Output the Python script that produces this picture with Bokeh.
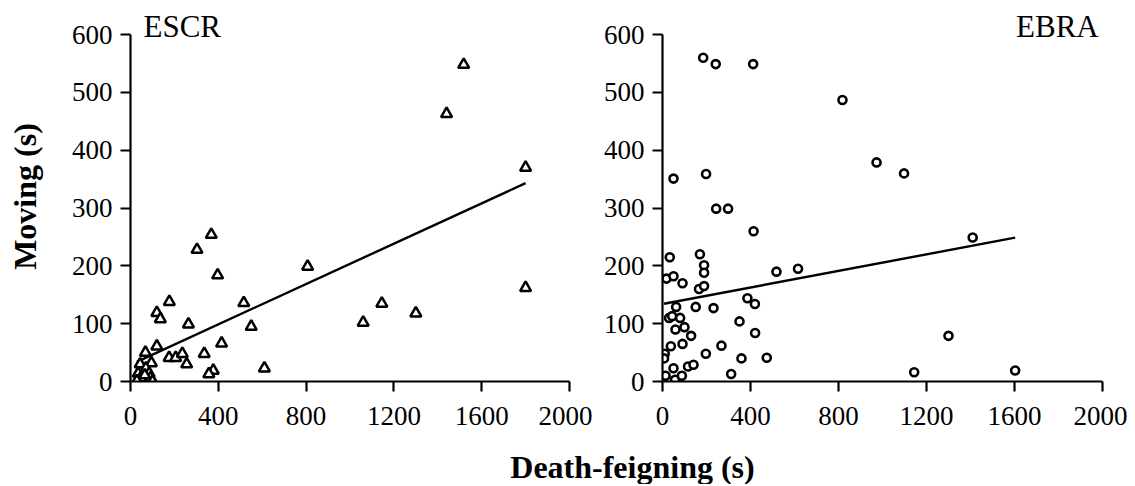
from bokeh.plotting import figure
from bokeh.layouts import column, row
from bokeh.models import Range1d, FixedTicker
from bokeh.core.properties import value
from bokeh.embed import file_html
from bokeh.resources import INLINE

# ---- data ----
escr_death = [1518, 1440, 1800, 1800, 368, 303, 397, 807, 177, 516, 1145, 1300,
              120, 136, 264, 550, 1060, 415, 120, 68, 176, 206, 236, 256, 336,
              377, 357, 610, 44, 95, 70, 35, 85, 47, 92, 29, 100, 65]
escr_moving = [548, 463, 370, 162, 254, 228, 184, 199, 138, 136, 135, 118,
               119, 108, 99, 95, 102, 66, 61, 50, 41, 41, 48, 30, 48,
               19, 13, 23, 30, 32, 23, 14, 14, 6, 6, 1, 0, 11]
escr_intercept = 29.0
escr_slope = 0.1745

ebra_death = [185, 242, 412, 818, 50, 198, 244, 298, 973, 1098, 1410, 1300, 1144,
              1603, 414, 33, 170, 189, 189, 518, 616, 18, 50, 91, 166, 189, 386,
              420, 62, 151, 232, 30, 44, 80, 100, 59, 130, 350, 421, 38, 91, 268,
              197, 359, 474, 10, 7, 116, 141, 50, 14, 57, 88, 312]
ebra_moving = [560, 549, 549, 487, 351, 359, 299, 299, 379, 360, 249, 79, 16,
               19, 260, 215, 220, 201, 188, 190, 195, 178, 182, 170, 160, 165, 144,
               134, 129, 129, 127, 110, 113, 110, 94, 90, 79, 104, 84, 61, 65, 62,
               48, 40, 41, 48, 40, 26, 29, 23, 10, 3, 10, 13]
ebra_intercept = 134.0
ebra_slope = 0.0716

x_ticks = [0, 400, 800, 1200, 1600, 2000]
y_ticks = [0, 100, 200, 300, 400, 500, 600]
panel_names = ["ESCR", "EBRA"]
x_title = "Death-feigning (s)"
y_title = "Moving (s)"

FONT = "Liberation Serif"
INK = "#000000"
ROW_H = 441


def make_panel(xs, ys, marker, msize, mlw, intercept, slope, width, bl, br):
    p = figure(width=width, height=ROW_H, x_range=Range1d(0, 2000), y_range=Range1d(0, 640),
               output_backend="svg", toolbar_location=None,
               min_border_left=bl, min_border_right=br, min_border_top=11, min_border_bottom=60,
               outline_line_color=None, background_fill_color="white", border_fill_color="white")
    p.grid.visible = False
    for ax in (p.xaxis[0], p.yaxis[0]):
        ax.axis_line_width = 2.2
        ax.axis_line_color = INK
        ax.major_tick_line_width = 2.2
        ax.major_tick_line_color = INK
        ax.major_tick_in = 0
        ax.major_tick_out = 10
        ax.minor_tick_line_color = None
        ax.major_label_text_font = FONT
        ax.major_label_text_font_size = "27px"
        ax.major_label_text_color = INK
    p.xaxis[0].ticker = FixedTicker(ticks=x_ticks)
    p.yaxis[0].ticker = FixedTicker(ticks=y_ticks)
    p.xaxis[0].bounds = (0, 2000)
    p.yaxis[0].bounds = (0, 600)
    p.xaxis[0].major_label_standoff = 15
    p.yaxis[0].major_label_standoff = 8
    lx = [min(xs), max(xs)]
    ly = [intercept + slope * v for v in lx]
    p.line(lx, ly, line_color=INK, line_width=2.4)
    p.scatter(xs, ys, marker=marker, size=msize, line_color=INK, line_width=mlw,
              fill_color="white")
    return p


p1 = make_panel(escr_death, escr_moving, "triangle", 11, 2.5, escr_intercept, escr_slope,
                592, 130, 23)
p1.yaxis[0].axis_label = y_title
p1.yaxis[0].axis_label_text_font = FONT
p1.yaxis[0].axis_label_text_font_style = "bold"
p1.yaxis[0].axis_label_text_font_size = "32px"
p1.yaxis[0].axis_label_text_color = INK
p1.yaxis[0].axis_label_standoff = 26
p1.text(x=[59], y=[614], text=[panel_names[0]], text_font=value(FONT),
        text_font_size="31px", text_baseline="alphabetic", text_align="left", text_color=INK)

p2 = make_panel(ebra_death, ebra_moving, "circle", 8, 2.6, ebra_intercept, ebra_slope,
                535, 70, 25)
p2.text(x=[1983], y=[614], text=[panel_names[1]], text_font=value(FONT),
        text_font_size="31px", text_baseline="alphabetic", text_align="right", text_color=INK)

p3 = figure(width=1127, height=43, x_range=Range1d(0, 1127), y_range=Range1d(0, 43),
            output_backend="svg", toolbar_location=None, min_border=0,
            x_axis_location=None, y_axis_location=None,
            outline_line_color=None, background_fill_color="white", border_fill_color="white")
p3.grid.visible = False
p3.text(x=[632], y=[18], text=[x_title], text_font=value(FONT), text_font_style="bold",
        text_font_size="32px", text_baseline="alphabetic", text_align="center", text_color=INK)

layout = column(row(p1, p2, spacing=0), p3, spacing=0)
open("out.html", "w").write(file_html(layout, INLINE))
